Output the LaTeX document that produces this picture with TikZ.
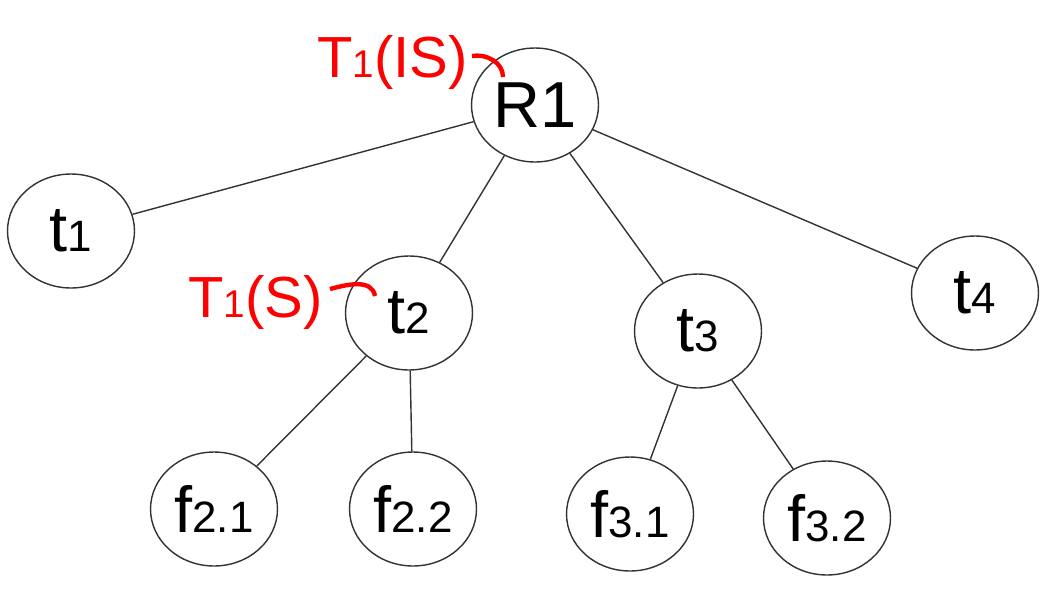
\documentclass[tikz,border=0pt]{standalone}
\usepackage{fontspec}
\setmainfont{Liberation Sans}
\usepackage{tikz}
\usetikzlibrary{shapes.geometric}
\def\treenode{\node[ellipse,draw=black!80,line width=0.8pt,minimum width=2.54cm,minimum height=2.28cm,inner sep=0pt,font=\fontsize{37}{37}\selectfont]}
\newcommand{\subidx}[1]{{\fontsize{25}{25}\selectfont #1}}
\newcommand{\redidx}[1]{{\fontsize{22}{22}\selectfont #1}}

\begin{document}
\begin{tikzpicture}[x=0.02cm,y=-0.02cm,tedge/.style={line width=0.8pt,draw=black!80},lock/.style={red,line width=2.5pt},locklabel/.style={red,anchor=base west,inner sep=0pt,font=\fontsize{33}{33}\selectfont}]
\useasboundingbox (0,0) rectangle (1061,609);
\treenode (r1) at (535,105) {R1};
\treenode (t1) at (71,231) {t\subidx{1}};
\treenode (t2) at (409,313) {t\subidx{2}};
\treenode (t3) at (698,331) {t\subidx{3}};
\treenode (t4) at (975,293) {t\subidx{4}};
\treenode (f21) at (214,509) {f\subidx{2.1}};
\treenode (f22) at (413,509) {f\subidx{2.2}};
\treenode (f31) at (630,514) {f\subidx{3.1}};
\treenode (f32) at (827,518) {f\subidx{3.2}};
\draw[tedge] (r1) -- (t1);
\draw[tedge] (r1) -- (t2);
\draw[tedge] (r1) -- (t3);
\draw[tedge] (r1) -- (t4);
\draw[tedge] (t2) -- (f21);
\draw[tedge] (t2) -- (f22);
\draw[tedge] (t3) -- (f31);
\draw[tedge] (t3) -- (f32);
% lock labels
\node[locklabel] (lis) at (317,77) {T\redidx{1}(IS)};
\coordinate (lisa) at (472,56);
\coordinate (lisb) at (503,77);
\draw[lock] (lisa) to[out=10,in=90] (lisb);
\node[locklabel] (ls) at (188,317) {T\redidx{1}(S)};
\coordinate (lsa) at (330,289);
\coordinate (lsb) at (375,296);
\draw[lock] (lsa) to[out=15,in=100] (lsb);
\end{tikzpicture}
\end{document}
